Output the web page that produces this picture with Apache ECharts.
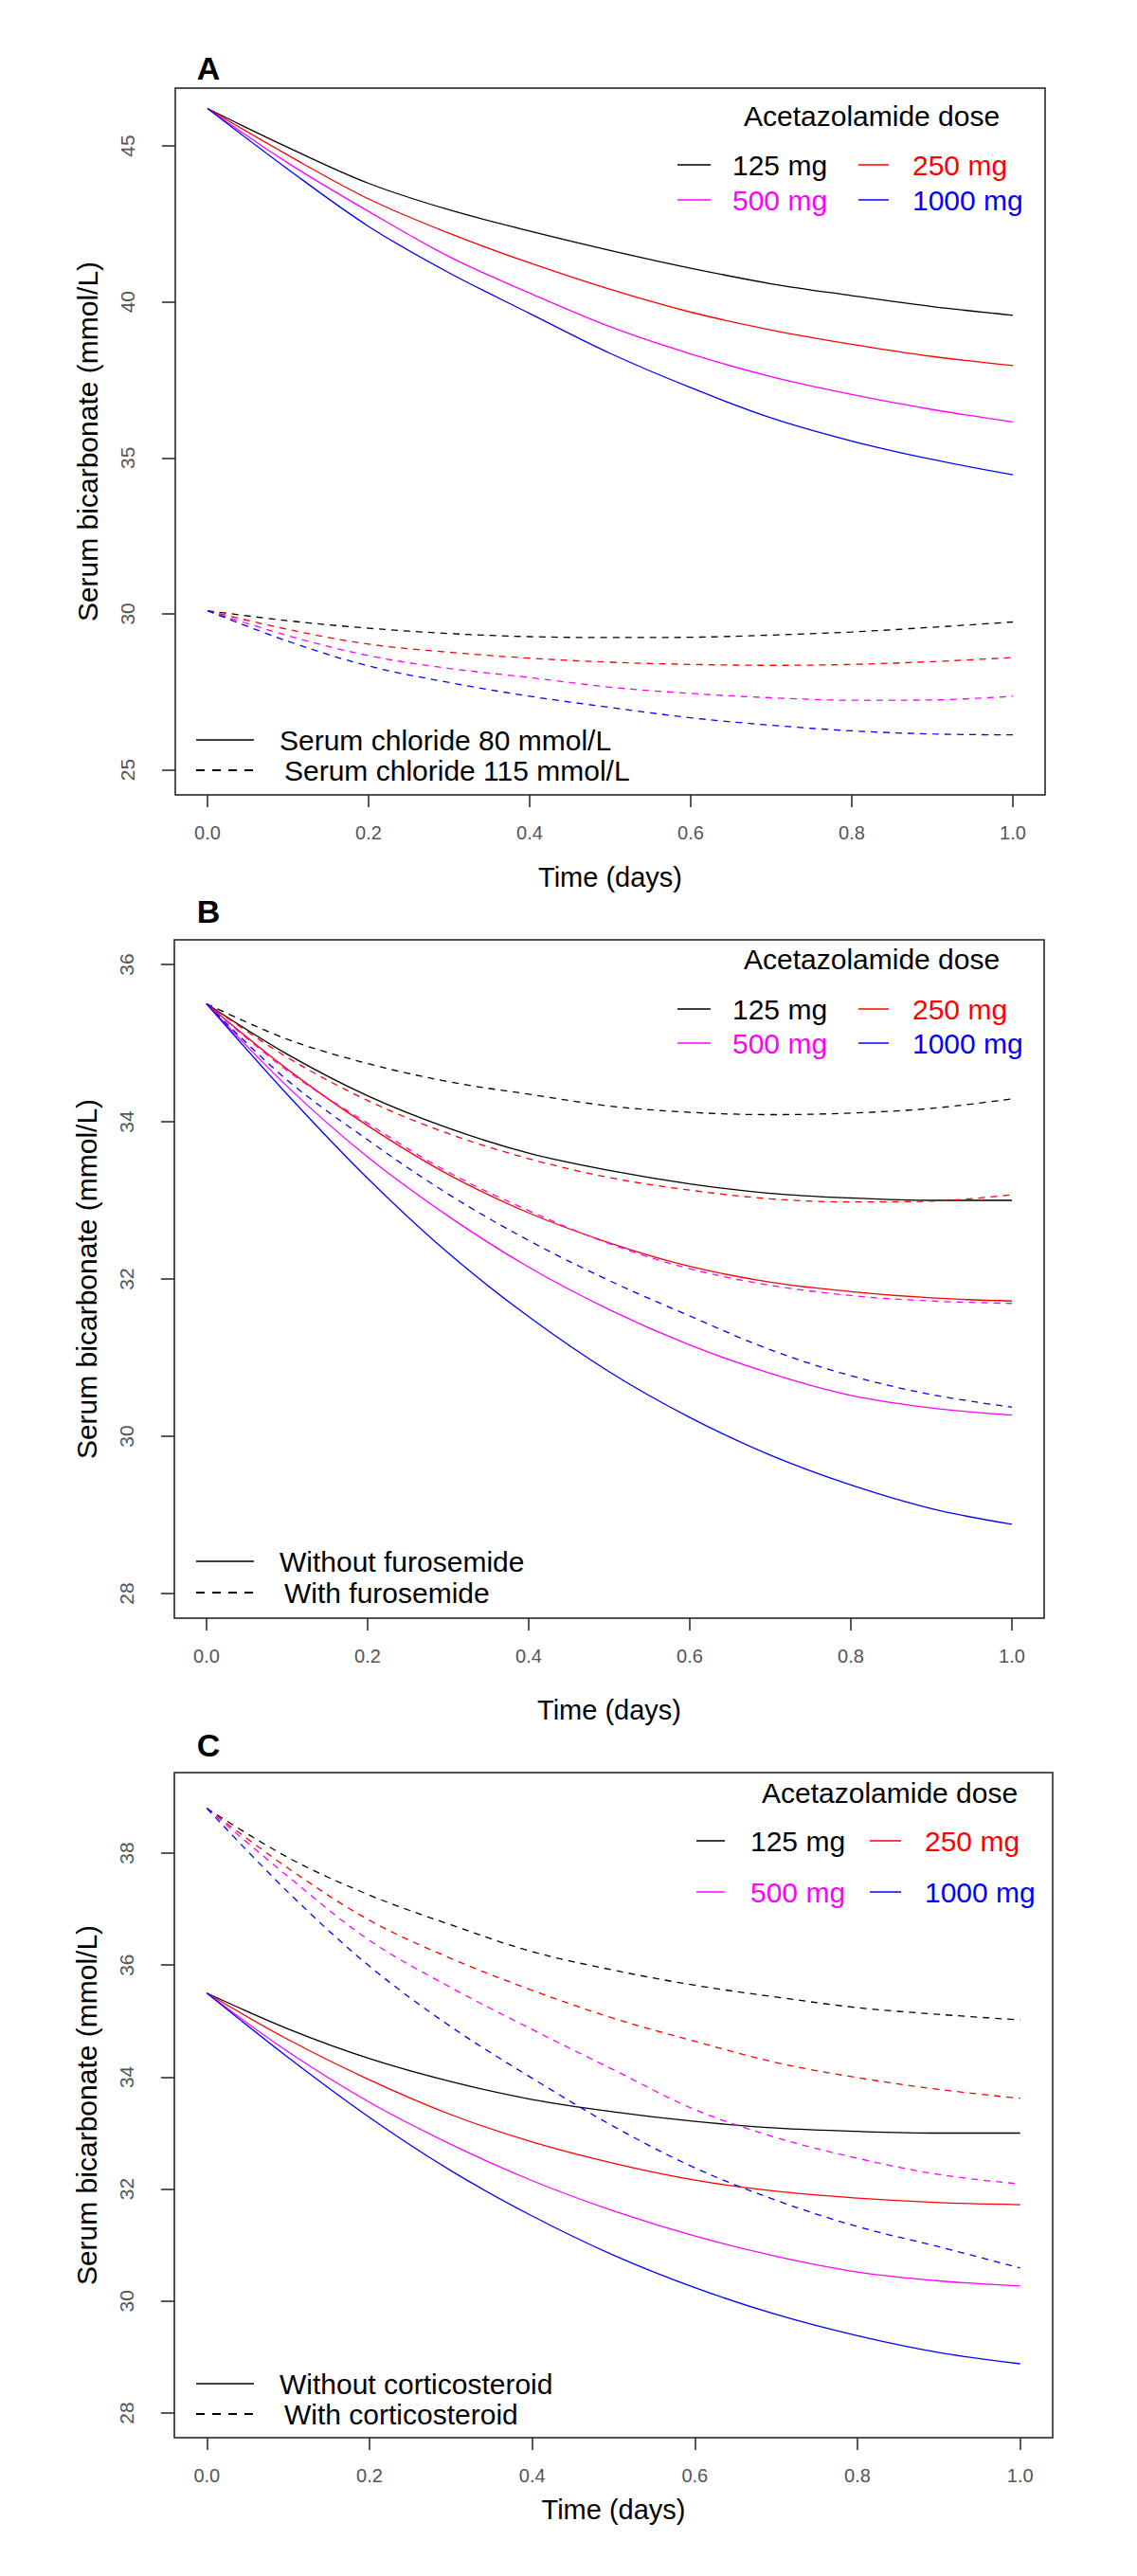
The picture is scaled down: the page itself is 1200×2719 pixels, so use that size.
<!DOCTYPE html>
<html>
<head>
<meta charset="utf-8">
<script src="https://cdn.jsdelivr.net/npm/echarts@6/dist/echarts.min.js"></script>
<style>
html,body{margin:0;padding:0;background:#fff;}
#chart{width:1200px;height:2719px;}
</style>
</head>
<body>
<div id="chart"></div>
<script>
// ---------- DATA ----------
const times = [0, 0.1, 0.2, 0.3, 0.4, 0.5, 0.6, 0.7, 0.8, 0.9, 1.0];
const doseLabels = ['125 mg', '250 mg', '500 mg', '1000 mg'];
const xTicks = [0, 0.2, 0.4, 0.6, 0.8, 1.0];
const yTicksA = [25, 30, 35, 40, 45];
const yTicksB = [28, 30, 32, 34, 36];
const yTicksC = [28, 30, 32, 34, 36, 38];

// Panel A: serum chloride 80 mmol/L (solid) and 115 mmol/L (dashed)
const A_cl80_125 = [46.2, 44.95, 43.8, 42.95, 42.27, 41.65, 41.08, 40.58, 40.2, 39.85, 39.57];
const A_cl80_250 = [46.2, 44.7, 43.3, 42.2, 41.25, 40.4, 39.67, 39.1, 38.64, 38.25, 37.96];
const A_cl80_500 = [46.2, 44.45, 42.9, 41.45, 40.28, 39.2, 38.33, 37.6, 37.03, 36.55, 36.15];
const A_cl80_1000 = [46.2, 44.25, 42.42, 40.93, 39.63, 38.35, 37.25, 36.28, 35.54, 34.95, 34.46];
const A_cl115_125 = [30.1, 29.78, 29.54, 29.37, 29.27, 29.24, 29.25, 29.32, 29.42, 29.57, 29.74];
const A_cl115_250 = [30.1, 29.5, 29.03, 28.77, 28.58, 28.45, 28.38, 28.35, 28.38, 28.47, 28.6];
const A_cl115_500 = [30.1, 29.3, 28.66, 28.25, 27.96, 27.65, 27.45, 27.31, 27.23, 27.24, 27.36];
const A_cl115_1000 = [30.1, 29.12, 28.33, 27.8, 27.36, 27.0, 26.67, 26.43, 26.25, 26.15, 26.12];

// Panel B: without (solid) / with (dashed) furosemide
const B_noFuro_125 = [35.5, 34.86, 34.33, 33.92, 33.6, 33.38, 33.21, 33.09, 33.03, 33.0, 33.0];
const B_noFuro_250 = [35.5, 34.67, 33.95, 33.33, 32.84, 32.46, 32.16, 31.96, 31.84, 31.76, 31.72];
const B_noFuro_500 = [35.5, 34.45, 33.55, 32.8, 32.15, 31.61, 31.16, 30.8, 30.52, 30.36, 30.27];
const B_noFuro_1000 = [35.5, 34.35, 33.28, 32.33, 31.52, 30.82, 30.24, 29.76, 29.38, 29.08, 28.88];
const B_furo_125 = [35.5, 35.05, 34.74, 34.51, 34.35, 34.2, 34.12, 34.09, 34.11, 34.17, 34.29];
const B_furo_250 = [35.5, 34.82, 34.27, 33.85, 33.53, 33.29, 33.13, 33.02, 32.98, 32.99, 33.07];
const B_furo_500 = [35.5, 34.65, 33.98, 33.36, 32.87, 32.45, 32.13, 31.92, 31.79, 31.72, 31.69];
const B_furo_1000 = [35.5, 34.53, 33.77, 33.08, 32.49, 31.98, 31.53, 31.1, 30.77, 30.53, 30.37];

// Panel C: without (solid) / with (dashed) corticosteroid
const C_noCort_125 = [35.5, 34.86, 34.33, 33.92, 33.6, 33.38, 33.21, 33.09, 33.03, 33.0, 33.0];
const C_noCort_250 = [35.5, 34.67, 33.95, 33.33, 32.84, 32.46, 32.16, 31.96, 31.84, 31.76, 31.72];
const C_noCort_500 = [35.5, 34.45, 33.55, 32.8, 32.15, 31.61, 31.16, 30.8, 30.52, 30.36, 30.27];
const C_noCort_1000 = [35.5, 34.35, 33.28, 32.33, 31.52, 30.82, 30.24, 29.76, 29.38, 29.08, 28.88];
const C_cort_125 = [38.8, 37.92, 37.25, 36.72, 36.24, 35.91, 35.64, 35.43, 35.24, 35.12, 35.02];
const C_cort_250 = [38.8, 37.73, 36.8, 36.12, 35.55, 35.05, 34.64, 34.26, 33.99, 33.78, 33.62];
const C_cort_500 = [38.8, 37.58, 36.44, 35.6, 34.85, 34.13, 33.42, 32.92, 32.55, 32.26, 32.09];
const C_cort_1000 = [38.8, 37.3, 35.98, 34.9, 33.98, 33.12, 32.38, 31.8, 31.33, 30.97, 30.59];

// ---------- STYLE / LAYOUT ----------
const doseColors = ['#000000', '#ff0000', '#ff00ff', '#0000ff'];
const FONT = "'Liberation Sans', Arial, Helvetica, sans-serif";

const panels = [
  { letter: 'A', left: 185, top: 93, width: 918, height: 746, ymin: 24.198, ymax: 46.852, yticks: yTicksA,
    solid: [A_cl80_125, A_cl80_250, A_cl80_500, A_cl80_1000],
    dashed: [A_cl115_125, A_cl115_250, A_cl115_500, A_cl115_1000],
    legend2: ['Serum chloride 80 mmol/L', 'Serum chloride 115 mmol/L'],
    nameGapX: 72,
    dose: { titleY: 122, row1: 174, row2: 211, line1: [715, 750], text1: 773, line2: [906, 938], text2: 963, titleX: 785 },
    leg2: [781, 813], letterY: 72 },
  { letter: 'B', left: 184, top: 992, width: 918, height: 716, ymin: 27.687, ymax: 36.313, yticks: yTicksB,
    solid: [B_noFuro_125, B_noFuro_250, B_noFuro_500, B_noFuro_1000],
    dashed: [B_furo_125, B_furo_250, B_furo_500, B_furo_1000],
    legend2: ['Without furosemide', 'With furosemide'],
    nameGapX: 82,
    dose: { titleY: 1012, row1: 1065, row2: 1101, line1: [715, 750], text1: 773, line2: [906, 938], text2: 963, titleX: 785 },
    leg2: [1648, 1681], letterY: 962 },
  { letter: 'C', left: 184, top: 1871, width: 927, height: 702, ymin: 27.56, ymax: 39.438, yticks: yTicksC,
    solid: [C_noCort_125, C_noCort_250, C_noCort_500, C_noCort_1000],
    dashed: [C_cort_125, C_cort_250, C_cort_500, C_cort_1000],
    legend2: ['Without corticosteroid', 'With corticosteroid'],
    nameGapX: 61,
    dose: { titleY: 1892, row1: 1943, row2: 1997, line1: [735, 765], text1: 792, line2: [918, 951], text2: 976, titleX: 804 },
    leg2: [2516, 2548], letterY: 1842 }
];

const grid = [], xAxis = [], yAxis = [], series = [], graphic = [];

panels.forEach((p, i) => {
  grid.push({ left: p.left, top: p.top, width: p.width, height: p.height, show: true,
    borderColor: '#1a1a1a', borderWidth: 1.5, backgroundColor: 'transparent', containLabel: false });
  xAxis.push({
    type: 'value', gridIndex: i, min: -0.04, max: 1.04,
    name: 'Time (days)', nameLocation: 'middle', nameGap: p.nameGapX, nameMoveOverlap: false,
    nameTextStyle: { fontSize: 29, fontFamily: FONT, color: '#000', verticalAlign: 'top' },
    axisLine: { show: false, onZero: false },
    axisTick: { show: true, length: 13, customValues: xTicks, lineStyle: { color: '#222', width: 1.5 } },
    axisLabel: { show: true, customValues: xTicks, margin: 30, fontSize: 20, fontFamily: FONT, color: '#555',
      formatter: v => v.toFixed(1) },
    splitLine: { show: false }
  });
  yAxis.push({
    type: 'value', gridIndex: i, min: p.ymin, max: p.ymax,
    name: 'Serum bicarbonate (mmol/L)', nameLocation: 'middle', nameGap: 78, nameRotate: 90, nameMoveOverlap: false,
    nameTextStyle: { fontSize: 30, fontFamily: FONT, color: '#000' },
    axisLine: { show: false, onZero: false },
    axisTick: { show: true, length: 14, customValues: p.yticks, lineStyle: { color: '#222', width: 1.5 } },
    axisLabel: { show: true, customValues: p.yticks, rotate: 90, margin: 40, fontSize: 21, fontFamily: FONT, color: '#555' },
    splitLine: { show: false }
  });
  p.solid.forEach((arr, k) => {
    series.push({
      type: 'line', xAxisIndex: i, yAxisIndex: i, name: doseLabels[k], showSymbol: false, symbol: 'none',
      smooth: 0.35, data: times.map((t, j) => [t, arr[j]]),
      lineStyle: { color: doseColors[k], width: 1.3, type: 'solid' }, silent: true, animation: false
    });
  });
  p.dashed.forEach((arr, k) => {
    series.push({
      type: 'line', xAxisIndex: i, yAxisIndex: i, name: doseLabels[k], showSymbol: false, symbol: 'none',
      smooth: 0.35, data: times.map((t, j) => [t, arr[j]]),
      lineStyle: { color: doseColors[k], width: 1.3, type: [7, 6] }, silent: true, animation: false
    });
  });

  // Panel letter
  graphic.push({ type: 'text', style: { text: p.letter, x: 220, y: p.letterY, fill: '#000', fontSize: 34, fontWeight: 'bold',
    fontFamily: FONT, align: 'center', verticalAlign: 'middle' } });

  // Dose legend
  const d = p.dose;
  graphic.push({ type: 'text', style: { text: 'Acetazolamide dose', x: d.titleX, y: d.titleY, fill: '#000', fontSize: 30,
    fontFamily: FONT, align: 'left', verticalAlign: 'middle' } });
  const cells = [[d.row1, d.line1, d.text1], [d.row1, d.line2, d.text2], [d.row2, d.line1, d.text1], [d.row2, d.line2, d.text2]];
  cells.forEach((c, k) => {
    graphic.push({ type: 'line', shape: { x1: c[1][0], y1: c[0], x2: c[1][1], y2: c[0] },
      style: { stroke: doseColors[k], lineWidth: 1.5 } });
    graphic.push({ type: 'text', style: { text: doseLabels[k], x: c[2], y: c[0], fill: doseColors[k], fontSize: 30,
      fontFamily: FONT, align: 'left', verticalAlign: 'middle' } });
  });

  // Line type legend
  graphic.push({ type: 'line', shape: { x1: 207, y1: p.leg2[0], x2: 268, y2: p.leg2[0] }, style: { stroke: '#000', lineWidth: 1.6 } });
  graphic.push({ type: 'line', shape: { x1: 207, y1: p.leg2[1], x2: 268, y2: p.leg2[1] }, style: { stroke: '#000', lineWidth: 2.2, lineDash: [9, 8] } });
  graphic.push({ type: 'text', style: { text: p.legend2[0], x: 295, y: p.leg2[0], fill: '#000', fontSize: 30,
    fontFamily: FONT, align: 'left', verticalAlign: 'middle' } });
  graphic.push({ type: 'text', style: { text: p.legend2[1], x: 300, y: p.leg2[1], fill: '#000', fontSize: 30,
    fontFamily: FONT, align: 'left', verticalAlign: 'middle' } });
});

const chart = echarts.init(document.getElementById('chart'), null, { renderer: 'svg', width: 1200, height: 2719 });
chart.setOption({
  backgroundColor: '#ffffff',
  animation: false,
  grid, xAxis, yAxis, series, graphic
});
</script>
</body>
</html>
